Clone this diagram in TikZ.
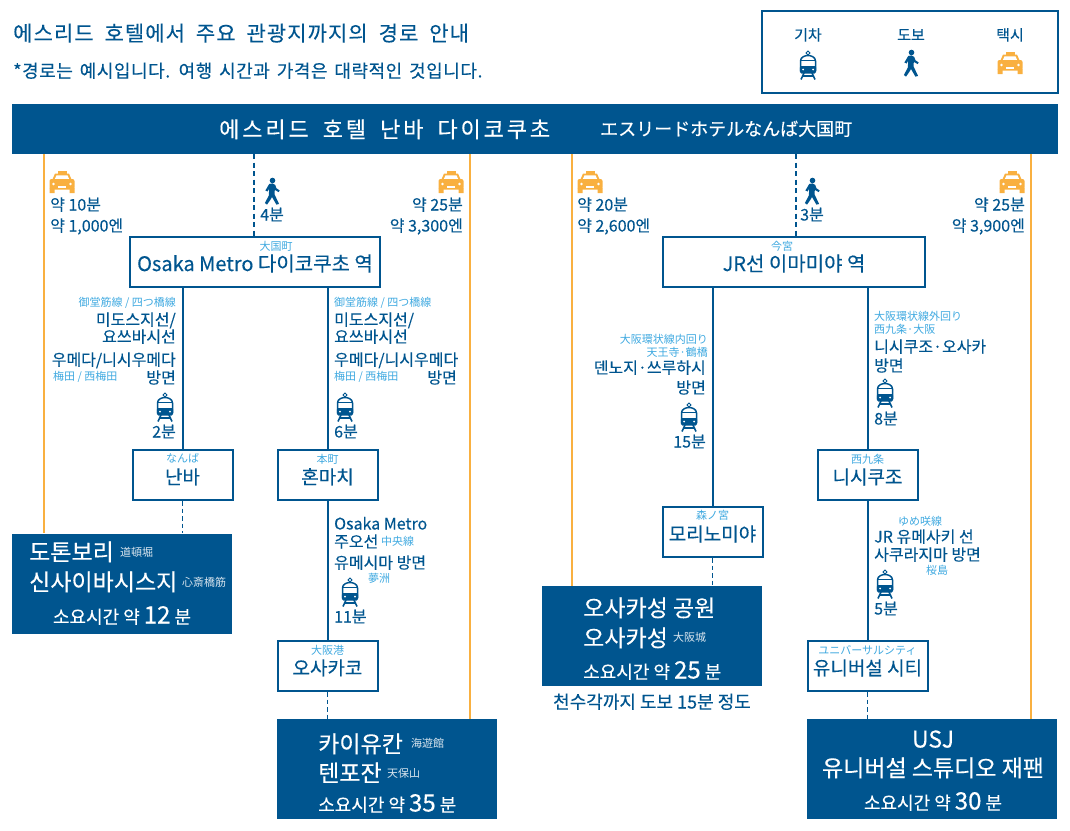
\documentclass[tikz,border=0pt]{standalone}
\usepackage{fontspec}
\setmainfont[FakeBold=0.2]{Noto Sans CJK KR}
\newfontfamily\jpfont{Noto Sans CJK JP}
\newfontfamily\titlefont[LetterSpace=5,WordSpace=1.9,FakeBold=0.3]{Noto Sans CJK KR}
\newfontfamily\notefont[LetterSpace=3,WordSpace=1.5,FakeBold=0.3]{Noto Sans CJK KR}
\newfontfamily\hotelfont[LetterSpace=13,WordSpace=1.8,FakeBold=0.3]{Noto Sans CJK KR}
\newfontfamily\hotelja[FakeBold=0.4]{Noto Sans CJK JP}
\newfontfamily\numfont[FakeBold=0.5]{Noto Sans CJK KR}
\usetikzlibrary{positioning,calc}
\definecolor{metro}{HTML}{00558F}
\definecolor{sky}{HTML}{3FA9E0}
\definecolor{cab}{HTML}{F9B040}
\newcommand{\sz}[1]{\fontsize{#1}{#1}\selectfont}
\newcommand{\minute}[1]{{\numfont\sz{24}#1}}
\tikzset{
	lab/.style = {inner sep=0pt, text=metro, font=\sz{16}, text height=14pt, text depth=1pt},
	yomi/.style = {inner sep=0pt, text=sky, font=\jpfont\sz{11}, text height=10pt, text depth=1pt},
	stabox/.style = {draw=metro, line width=2pt, fill=white, inner sep=0pt, text=metro, font=\sz{19}, text height=20pt, text depth=2pt, minimum height=50pt},
	goalbox/.style = {fill=metro, inner sep=0pt, minimum width=220pt, minimum height=100pt},
	goal/.style = {inner sep=0pt, text=white, font=\sz{23}, text height=21pt, text depth=2pt},
	goalyomi/.style = {inner sep=0pt, text=white!85!metro, font=\jpfont\sz{11}, text height=10pt, text depth=1pt},
	need/.style = {inner sep=0pt, text=white, font=\sz{18}, text height=21pt, text depth=2pt},
	railline/.style = {draw=metro, line width=2pt},
	footline/.style = {draw=metro, line width=2pt, dash pattern=on 5pt off 3.5pt},
	thinfoot/.style = {draw=metro, line width=1pt, dash pattern=on 4.5pt off 3pt},
	cabline/.style = {draw=cab, line width=2pt},
	traincon/.pic = {
		\draw[metro, line width=1pt] (0,-14) -- (2,-12) -- (0,-10) -- (-2,-12) -- cycle;
		\draw[metro, line width=1.5pt, fill=white] (-7.5,5) -- (-7.5,-4) .. controls (-7.5,-8) and (-3,-9.5) .. (0,-9.5) .. controls (3,-9.5) and (7.5,-8) .. (7.5,-4) -- (7.5,5) -- cycle;
		\fill[metro] (-8.2,-5.5) rectangle (8.2,-4.2);
		\fill[metro, rounded corners=1.5pt] (-8.2,1) -- (8.2,1) -- (8.2,8.5) -- (-8.2,8.5) -- cycle;
		\fill[white] (-5,4.5) circle (1pt) (5,4.5) circle (1pt);
		\draw[metro, line width=1.6pt] (-4,8) -- (-7,14.5) (4,8) -- (7,14.5) (-5,11) -- (5,11);
	},
	walkcon/.pic = {
		\fill[metro] (0.5,-10.5) circle (2.8pt);
		\fill[metro] (-2.8,-7) .. controls (-1,-8) and (2.2,-8) .. (3.3,-6) -- (4.4,-2.8) -- (7.7,-0.5) -- (6.6,1.1) -- (2.8,-1.1) -- (2.5,3.3) -- (7.1,13) -- (4.4,13.6) -- (0,6) -- (-1.6,8.8) -- (-5,13.6) -- (-7.1,12) -- (-3.1,4.4) -- (-2.9,-2.2) -- (-4.4,0.5) -- (-6.6,-0.5) -- cycle;
	},
	taxicon/.pic = {
		\fill[cab] (-4.5,-11) rectangle (4.5,-8.3);
		\fill[cab] (-7,-8.5) -- (7,-8.5) -- (10,-1.5) -- (-10,-1.5) -- cycle;
		\fill[white] (-5.5,-6.7) -- (5.5,-6.7) -- (7.5,-2.2) -- (-7.5,-2.2) -- cycle;
		\fill[cab, rounded corners=2pt] (-12.5,-3) rectangle (12.5,7.5);
		\fill[cab] (-12.5,6) rectangle (-7.5,11) (12.5,6) rectangle (7.5,11);
		\fill[white] (-8.5,2) circle (1.4pt) (8.5,2) circle (1.4pt);
		\fill[white] (-4,4.2) rectangle (4,5.6);
	},
}
\begin{document}
\begin{tikzpicture}[x=1pt, y=-1pt]
	\useasboundingbox (0,0) rectangle (1070,830);
	% heading
	\node [lab, anchor=west, font=\titlefont\sz{21}, text height=20pt, text depth=2pt] (title) at (13,32) {에스리드 호텔에서 주요 관광지까지의 경로 안내};
	\node [lab, anchor=west, font=\notefont\sz{18}] (note) at (13,71) {*경로는 예시입니다. 여행 시간과 가격은 대략적인 것입니다.};
	% legend
	\node [draw=metro, line width=2pt, inner sep=0pt, minimum width=296pt, minimum height=82pt] (legend) at (909.5,52) {};
	\node [lab, font=\sz{15}] (legtrain) at (808,34) {기차};
	\node [lab, font=\sz{15}] (legfoot) at (911,34) {도보};
	\node [lab, font=\sz{15}] (legcab) at (1010,34) {택시};
	\pic at (808,65) {traincon};
	\pic at (911,63) {walkcon};
	\pic at (1010,63) {taxicon};
	% hotel
	\node [fill=metro, inner sep=0pt, minimum width=1046pt, minimum height=50pt] (hotel) at (535,129) {};
	\node [goal, anchor=west, font=\hotelfont\sz{22}] (hotelko) at (219,128) {에스리드 호텔 난바 다이코쿠초};
	\node [goal, anchor=west, font=\hotelja\sz{18}, text height=17pt] (hotelja) at (600,128) {エスリードホテルなんば大国町};
	% stations
	\node [stabox, minimum width=250pt, font=\sz{20}] (metro) at (255,262) {Osaka Metro 다이코쿠초 역};
	\node [yomi] (metroy) at (276,246) {大国町};
	\node [stabox, minimum width=262pt, font=\sz{20}] (jr) at (794,262) {JR선 이마미야 역};
	\node [yomi] (jry) at (782,246) {今宮};
	\node [stabox, minimum width=100pt] (namba) at (182.5,475) {난바};
	\node [yomi] (nambay) at (182.5,458) {なんば};
	\node [stabox, minimum width=100pt] (honmachi) at (327.5,475) {혼마치};
	\node [yomi] (honmachiy) at (327.5,459) {本町};
	\node [stabox, minimum width=100pt] (osakako) at (327.5,666) {오사카코};
	\node [yomi] (osakakoy) at (327.5,650) {大阪港};
	\node [stabox, minimum width=100pt] (morinomiya) at (712.5,532) {모리노미야};
	\node [yomi] (morinomiyay) at (712.5,515) {森ノ宮};
	\node [stabox, minimum width=100pt] (nishikujo) at (867.5,475) {니시쿠조};
	\node [yomi] (nishikujoy) at (867.5,459) {西九条};
	\node [stabox, minimum width=120pt] (univ) at (867.5,666) {유니버설 시티};
	\node [yomi] (univy) at (867.5,650) {ユニバーサルシティ};
	% goals
	\node [goalbox] (dotonbori) at (122,583.5) {};
	\node [goalbox] (kaiyukan) at (387,769) {};
	\node [goalbox] (castle) at (652,636) {};
	\node [goalbox, minimum width=250pt] (usj) at (932,769) {};
	\node [goal, anchor=west] (g1a) at (29,551) {도톤보리};
	\node [goalyomi, anchor=west] (g1b) at (120,552) {道頓堀};
	\node [goal, anchor=west] (g1c) at (29,581) {신사이바시스지};
	\node [goalyomi, anchor=west] (g1d) at (182,582) {心斎橋筋};
	\node [need] (g1e) at (122,614) {소요시간 약 \minute{12} 분};
	\node [goal, anchor=west] (g2a) at (318,743) {카이유칸};
	\node [goalyomi, anchor=west] (g2b) at (411,743) {海遊館};
	\node [goal, anchor=west] (g2c) at (318,772) {텐포잔};
	\node [goalyomi, anchor=west] (g2d) at (387,773) {天保山};
	\node [need, anchor=west] (g2e) at (318,802) {소요시간 약 \minute{35} 분};
	\node [goal, anchor=west] (g3a) at (583,607) {오사카성 공원};
	\node [goal, anchor=west] (g3b) at (583,637) {오사카성};
	\node [goalyomi, anchor=west] (g3c) at (673,637) {大阪城};
	\node [need, anchor=west] (g3d) at (583,669) {소요시간 약 \minute{25} 분};
	\node [lab, font=\sz{18}] (g3e) at (652,702) {천수각까지 도보 15분 정도};
	\node [goal] (g4a) at (933,738) {USJ};
	\node [goal] (g4b) at (933,767) {유니버설 스튜디오 재팬};
	\node [need] (g4c) at (933,800) {소요시간 약 \minute{30} 분};
	% free ends of the taxi and walking lines
	\coordinate (taxia) at (43.5,180);
	\coordinate (taxib) at (469.5,180);
	\coordinate (taxic) at (571.5,180);
	\coordinate (taxid) at (1031,180);
	\coordinate (walka) at (254,180);
	\coordinate (walkb) at (795.5,180);
	\draw [cabline] (hotel.south -| taxia) -- (dotonbori.north -| taxia);
	\draw [cabline] (hotel.south -| taxib) -- (kaiyukan.north -| taxib);
	\draw [cabline] (hotel.south -| taxic) -- (castle.north -| taxic);
	\draw [cabline] (hotel.south -| taxid) -- (usj.north -| taxid);
	\draw [footline] (hotel.south -| walka) -- (metro.north -| walka);
	\draw [footline] (hotel.south -| walkb) -- (jr.north -| walkb);
	\draw [railline] (metro.south -| namba.north) -- (namba.north);
	\draw [railline] (metro.south -| honmachi.north) -- (honmachi.north);
	\draw [railline] (honmachi.south) -- (osakako.north);
	\draw [railline] (jr.south -| morinomiya.north) -- (morinomiya.north);
	\draw [railline] (jr.south -| nishikujo.north) -- (nishikujo.north);
	\draw [railline] (nishikujo.south) -- (univ.north);
	\draw [thinfoot] (namba.south) -- (namba.south |- dotonbori.north);
	\draw [thinfoot] (osakako.south) -- (osakako.south |- kaiyukan.north);
	\draw [thinfoot] (morinomiya.south) -- (morinomiya.south |- castle.north);
	\draw [thinfoot] (univ.south) -- (univ.south |- usj.north);
	% taxi and walking
	\foreach \x in {62,451,590,1012} \pic at (\x,182) {taxicon};
	\pic at (272,191) {walkcon};
	\pic at (812,191) {walkcon};
	\node [lab, anchor=west] (w1) at (260,214) {4분};
	\node [lab, anchor=west] (w2) at (800,214) {3분};
	\node [lab, anchor=west] (c1a) at (50,204) {약 10분};
	\node [lab, anchor=west] (c1b) at (50,225) {약 1,000엔};
	\node [lab, anchor=east] (c2a) at (463,204) {약 25분};
	\node [lab, anchor=east] (c2b) at (463,225) {약 3,300엔};
	\node [lab, anchor=west] (c3a) at (577,204) {약 20분};
	\node [lab, anchor=west] (c3b) at (577,225) {약 2,600엔};
	\node [lab, anchor=east] (c4a) at (1025,204) {약 25분};
	\node [lab, anchor=east] (c4b) at (1025,225) {약 3,900엔};
	% metro left
	\node [yomi, anchor=east] (r1a) at (176,302) {御堂筋線 / 四つ橋線};
	\node [lab, anchor=east] (r1b) at (176,319) {미도스지선/};
	\node [lab, anchor=east] (r1c) at (176,336) {요쓰바시선};
	\node [lab, anchor=east] (r1d) at (176,359) {우메다/니시우메다};
	\node [yomi, anchor=west] (r1e) at (53,376) {梅田 / 西梅田};
	\node [lab, anchor=east] (r1f) at (176,377) {방면};
	\pic at (165,407) {traincon};
	\node [lab, anchor=east] (r1g) at (176,431) {2분};
	% metro right
	\node [yomi, anchor=west] (r2a) at (334,302) {御堂筋線 / 四つ橋線};
	\node [lab, anchor=west] (r2b) at (334,319) {미도스지선/};
	\node [lab, anchor=west] (r2c) at (334,336) {요쓰바시선};
	\node [lab, anchor=west] (r2d) at (334,359) {우메다/니시우메다};
	\node [yomi, anchor=west] (r2e) at (334,376) {梅田 / 西梅田};
	\node [lab, anchor=east] (r2f) at (457,377) {방면};
	\pic at (345,407) {traincon};
	\node [lab, anchor=west] (r2g) at (334,431) {6분};
	% chuo line
	\node [lab, anchor=west] (r3a) at (334,523) {Osaka Metro};
	\node [lab, anchor=west] (r3b) at (334,541) {주오선};
	\node [yomi, anchor=west] (r3c) at (381,541) {中央線};
	\node [lab, anchor=west] (r3d) at (334,562) {유메시마 방면};
	\node [yomi, anchor=west] (r3e) at (368,578) {夢洲};
	\pic at (350,592) {traincon};
	\node [lab, anchor=west] (r3f) at (334,616) {11분};
	% loop line inner
	\node [yomi, anchor=east] (r4a) at (708,339) {大阪環状線内回り};
	\node [yomi, anchor=east] (r4b) at (708,352) {天王寺·鶴橋};
	\node [lab, anchor=east] (r4c) at (706,367) {덴노지·쓰루하시};
	\node [lab, anchor=east] (r4d) at (706,387) {방면};
	\pic at (689,417) {traincon};
	\node [lab, anchor=east] (r4e) at (706,441) {15분};
	% loop line outer
	\node [yomi, anchor=west] (r5a) at (874,316) {大阪環状線外回り};
	\node [yomi, anchor=west] (r5b) at (874,329) {西九条·大阪};
	\node [lab, anchor=west] (r5c) at (874,346) {니시쿠조·오사카};
	\node [lab, anchor=west] (r5d) at (874,365) {방면};
	\pic at (885,393) {traincon};
	\node [lab, anchor=west] (r5e) at (874,418) {8분};
	% yumesaki line
	\node [yomi, anchor=west] (r6a) at (898,521) {ゆめ咲線};
	\node [lab, anchor=west] (r6b) at (874,536) {JR 유메사키 선};
	\node [lab, anchor=west] (r6c) at (874,554) {사쿠라지마 방면};
	\node [yomi, anchor=west] (r6d) at (926,570) {桜島};
	\pic at (885,584) {traincon};
	\node [lab, anchor=west] (r6e) at (874,608) {5분};
\end{tikzpicture}
\end{document}
